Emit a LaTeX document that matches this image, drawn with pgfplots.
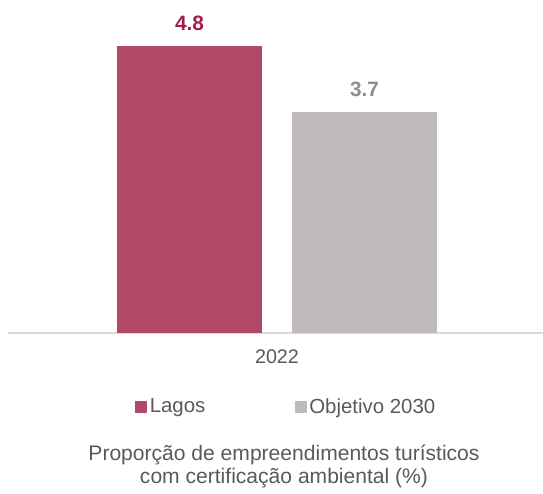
\documentclass[border=0pt]{standalone}
\usepackage{fontspec}
\setmainfont{Liberation Sans}
\usepackage{pgfplots}
\pgfplotsset{compat=1.18}
\definecolor{lagosbar}{HTML}{B34766}
\definecolor{lagostxt}{HTML}{A51E4B}
\definecolor{objbar}{HTML}{BEBBBA}
\definecolor{objtxt}{HTML}{8E8E8E}
\definecolor{axisgray}{HTML}{D9D9D9}
\definecolor{txtgray}{HTML}{595959}
\pgfplotsset{sqlegend/.style={legend image code/.code={\fill[##1] (0pt,-4.5pt) rectangle (9pt,4.5pt);}}}

\begin{document}
\begin{tikzpicture}
% page = 543 x 493 px, 1px = 0.75pt
\useasboundingbox (0pt,0pt) rectangle (407.25pt,369.75pt);
\begin{axis}[
    at={(6pt,120pt)}, anchor=south west,
    scale only axis,
    width=401.25pt, height=242.25pt,
    xmin=8, xmax=543, ymin=0, ymax=5.402,
    axis x line*=bottom, axis y line=none,
    x axis line style={color=axisgray, line width=1.3pt},
    xtick={277}, xticklabels={2022},
    major tick length=0pt,
    xticklabel style={font=\fontsize{14.8}{17}\selectfont, text=txtgray, yshift=-9pt},
    ytick=\empty,
    clip=false,
    nodes near coords={\pgfmathprintnumber[assume math mode=true]{\pgfplotspointmeta}},
    legend columns=2,
    legend style={at={(axis description cs:0.5206,-0.229)}, anchor=center,
        draw=none, fill=none, font=\fontsize{15.3}{17}\selectfont, text=txtgray,
        /tikz/every even column/.append style={column sep=65pt},
        nodes={inner sep=2pt}},
]
\addplot[ybar, bar width=108.75pt, fill=lagosbar, draw=none, sqlegend,
    every node near coord/.append style={font=\bfseries\fontsize{15.6}{18}\selectfont, text=lagostxt, yshift=8pt}]
    coordinates {(189.5,4.8)};
\addlegendentry{Lagos}
\addplot[ybar, bar width=108.75pt, fill=objbar, draw=none, sqlegend,
    every node near coord/.append style={font=\bfseries\fontsize{15.6}{18}\selectfont, text=objtxt, yshift=8pt}]
    coordinates {(364.5,3.7)};
\addlegendentry{Objetivo 2030}
\end{axis}
\node[align=center, text=txtgray, font=\fontsize{15.8}{17.25}\selectfont] at (213pt,19.9pt)
    {Proporção de empreendimentos turísticos\\com certificação ambiental (\%)};
\end{tikzpicture}
\end{document}
